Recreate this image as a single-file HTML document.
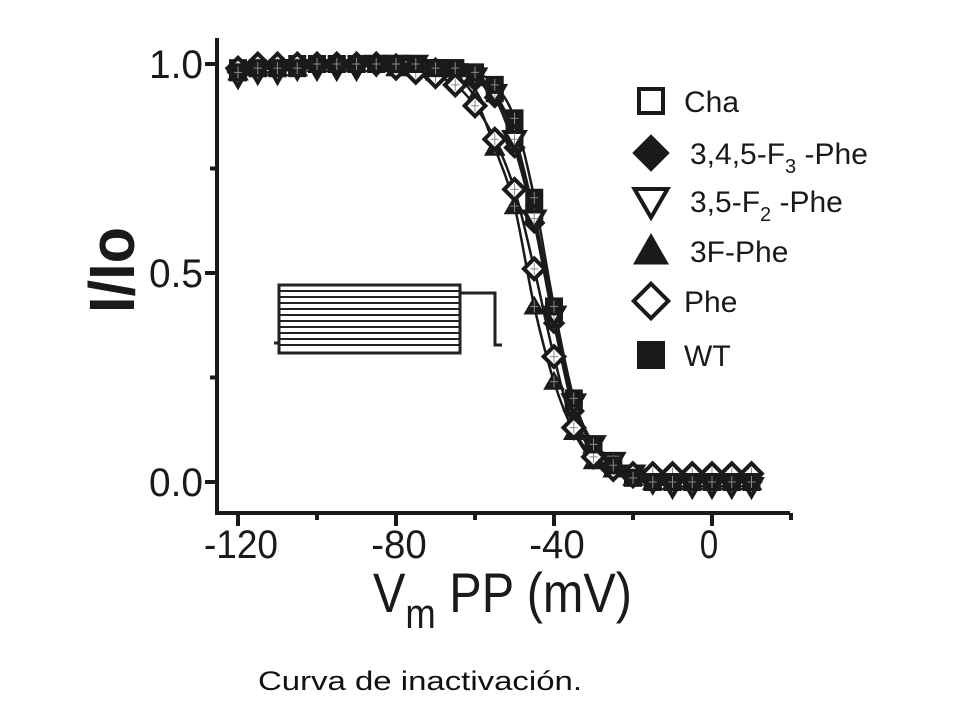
<!DOCTYPE html>
<html><head><meta charset="utf-8"><style>
body{margin:0;background:#fff;}
svg text{font-family:"Liberation Sans",Arial,sans-serif;}
</style></head><body>
<svg id="c" width="960" height="720" viewBox="0 0 960 720" xmlns="http://www.w3.org/2000/svg">
<g id="axes"></g>
<g id="inset" stroke="#222" fill="none">
  <rect x="279" y="285" width="181" height="68" stroke-width="3"/>
  <path d="M279 291H460M279 297H460M279 303H460M279 309H460M279 315H460M279 321H460M279 327H460M279 333H460M279 339H460M279 345H460" stroke-width="2"/>
  <path d="M274 343H279M460 293H495V345H502" stroke-width="3"/>
</g>
<g id="series"></g>
<g id="legend"></g>
<text x="0" y="0" font-size="64" font-weight="bold" fill="#1a1a1a" text-anchor="middle" textLength="86" lengthAdjust="spacingAndGlyphs" transform="translate(134 270) rotate(-90)">I/Io</text>
<text x="373" y="612" font-size="56" text-anchor="start" fill="#1a1a1a" textLength="259" lengthAdjust="spacingAndGlyphs">V<tspan font-size="42" dy="16">m</tspan><tspan dy="-16"> PP (mV)</tspan></text>
<text x="258" y="690" font-size="27" text-anchor="start" fill="#111" textLength="324" lengthAdjust="spacingAndGlyphs">Curva de inactivación.</text>
</svg>
<script>
const voltages=[-120,-115,-110,-105,-100,-95,-90,-85,-80,-75,-70,-65,-60,-55,-50,-45,-40,-35,-30,-25,-20,-15,-10,-5,0,5,10];
const chaValues=[0.99,0.99,0.99,1.0,1.0,1.0,1.0,1.0,1.0,1.0,0.99,0.99,0.97,0.93,0.83,0.64,0.40,0.19,0.08,0.04,0.02,0.01,0.0,0.0,0.0,0.0,0.0];
const f3Values=[0.98,0.99,0.99,0.99,1.0,1.0,1.0,1.0,1.0,0.99,0.99,0.98,0.96,0.92,0.80,0.62,0.38,0.17,0.07,0.03,0.01,0.0,0.0,0.0,0.0,0.0,0.0];
const f2Values=[0.97,0.98,0.98,0.99,0.99,0.99,0.99,1.0,1.0,1.0,0.99,0.98,0.97,0.93,0.82,0.63,0.40,0.19,0.09,0.05,0.02,0.0,-0.01,-0.01,-0.01,-0.01,-0.01];
const f1Values=[0.98,0.99,0.99,0.99,1.0,1.0,1.0,1.0,0.99,0.99,0.98,0.97,0.92,0.80,0.66,0.42,0.24,0.12,0.05,0.03,0.01,0.0,0.0,0.0,0.0,0.0,0.0];
const pheValues=[0.99,1.0,1.0,1.0,1.0,1.0,1.0,1.0,0.99,0.98,0.97,0.95,0.90,0.82,0.70,0.51,0.30,0.13,0.06,0.03,0.02,0.02,0.02,0.02,0.02,0.02,0.02];
const wtValues=[0.98,0.99,0.99,0.99,1.0,1.0,1.0,1.0,1.0,1.0,0.99,0.99,0.98,0.95,0.87,0.68,0.42,0.20,0.09,0.04,0.01,0.0,0.0,0.0,0.0,0.0,0.0];
const xTicks=[-120,-80,-40,0];
const xMinor=[-100,-60,-20,20];
const yTicks=[0,0.5,1.0];
const yTickLabels=["0.0","0.5","1.0"];
const yMinor=[0.25,0.75];
const legendLabels=["Cha","3,4,5-F|3| -Phe","3,5-F|2| -Phe","3F-Phe","Phe","WT"];

const NS="http://www.w3.org/2000/svg";
function X(v){return 712+(v-0)*3.95;}
function Y(v){return 482-v*418;}
function mk(tag,attrs,parent){const e=document.createElementNS(NS,tag);for(const k in attrs)e.setAttribute(k,attrs[k]);parent.appendChild(e);return e;}
const axes=document.getElementById('axes');
mk('path',{d:'M217 38V513H790',stroke:'#1a1a1a','stroke-width':4,fill:'none'},axes);
xTicks.forEach((t,i)=>{const l=mk('line',{x1:X(t),x2:X(t),y1:513,y2:526,stroke:'#1a1a1a','stroke-width':4},axes);

const s=String(t);
const tx=mk('text',{x:X(t)+(t<0?3:-3),y:558,'font-size':40,'text-anchor':'middle',fill:'#1a1a1a',textLength:s.length*18.5,lengthAdjust:'spacingAndGlyphs'},axes);tx.textContent=s;
});
xMinor.forEach(t=>{mk('line',{x1:X(t),x2:X(t),y1:513,y2:520,stroke:'#1a1a1a','stroke-width':4},axes);});
yTicks.forEach((t,i)=>{const l=mk('line',{x1:205,x2:217,y1:Y(t),y2:Y(t),stroke:'#1a1a1a','stroke-width':4},axes);

const tx=mk('text',{x:203,y:Y(t)+14,'font-size':40,'text-anchor':'end',fill:'#1a1a1a',textLength:54,lengthAdjust:'spacingAndGlyphs'},axes);tx.textContent=yTickLabels[i];
});
yMinor.forEach(t=>{mk('line',{x1:210,x2:217,y1:Y(t),y2:Y(t),stroke:'#1a1a1a','stroke-width':4},axes);});

function marker(type,x,y,s,parent){
  const c='#1a1a1a';
  if(type==='sqOpen')return mk('rect',{x:x-s+2,y:y-s+2,width:2*s-4,height:2*s-4,fill:'#fff',stroke:c,'stroke-width':4},parent);
  if(type==='sqFill')return mk('rect',{x:x-s,y:y-s,width:2*s,height:2*s,fill:c},parent);
  if(type==='diaFill')return mk('path',{d:`M${x} ${y-s*1.25}L${x+s*1.25} ${y}L${x} ${y+s*1.25}L${x-s*1.25} ${y}Z`,fill:c},parent);
  if(type==='diaOpen')return mk('path',{d:`M${x} ${y-s*1.15}L${x+s*1.15} ${y}L${x} ${y+s*1.15}L${x-s*1.15} ${y}Z`,fill:'#fff',stroke:c,'stroke-width':4},parent);
  if(type==='triDownOpen')return mk('path',{d:`M${x-s*1.1} ${y-s*0.8}L${x+s*1.1} ${y-s*0.8}L${x} ${y+s*1.1}Z`,fill:'#fff',stroke:c,'stroke-width':4},parent);
  if(type==='triUpFill')return mk('path',{d:`M${x-s*1.2} ${y+s*0.9}L${x+s*1.2} ${y+s*0.9}L${x} ${y-s*1.2}Z`,fill:c},parent);
}
const series=[
 {name:'cha',vals:chaValues,m:'sqOpen'},
 {name:'f3-phe',vals:f3Values,m:'diaFill'},
 {name:'f2-phe',vals:f2Values,m:'triDownOpen'},
 {name:'f1-phe',vals:f1Values,m:'triUpFill'},
 {name:'phe',vals:pheValues,m:'diaOpen'},
 {name:'wt',vals:wtValues,m:'sqFill'}];
const sg=document.getElementById('series');
function smooth(pts){let d=`M${pts[0][0]} ${pts[0][1]}`;for(let i=0;i<pts.length-1;i++){const p0=pts[Math.max(0,i-1)],p1=pts[i],p2=pts[i+1],p3=pts[Math.min(pts.length-1,i+2)];
d+=`C${p1[0]+(p2[0]-p0[0])/6} ${p1[1]+(p2[1]-p0[1])/6} ${p2[0]-(p3[0]-p1[0])/6} ${p2[1]-(p3[1]-p1[1])/6} ${p2[0]} ${p2[1]}`;}return d;}
series.forEach(s=>{
  const g=mk('g',{},sg);
  
  
  const pts=voltages.map((v,i)=>[X(v),Y(s.vals[i])]);
  const ln=mk('path',{d:smooth(pts),fill:'none',stroke:'#1a1a1a','stroke-width':2.5},g);
  
  
});
series.forEach(s=>{
  const g=mk('g',{},sg);
  
  
  voltages.forEach((v,i)=>{
    const p=marker(s.m,X(v),Y(s.vals[i]),9,g);
    
    
    mk('path',{d:`M${X(v)-4} ${Y(s.vals[i])}H${X(v)+4}M${X(v)} ${Y(s.vals[i])-6}V${Y(s.vals[i])+6}`,stroke:'#888','stroke-width':1},g);
  });
});
const lg=document.getElementById('legend');
const lm=['sqOpen','diaFill','triDownOpen','triUpFill','diaOpen','sqFill'];
const ly=[101,153,201,251,301,355];
legendLabels.forEach((lab,i)=>{
  const g=mk('g',{},lg);
  
  
  marker(lm[i],651,ly[i],i===0||i===5?14:15,g);
  const t=mk('text',{x:i===0||i===4||i===5?684:690,y:ly[i]+11,'font-size':30,fill:'#1a1a1a'},g);
  const parts=lab.split('|');
  t.appendChild(document.createTextNode(parts[0]));
  if(parts.length>1){const sub=mk('tspan',{'font-size':20,dy:9},t);sub.textContent=parts[1];
  const rest=mk('tspan',{dy:-9},t);rest.textContent=parts[2];}
});
</script>
</body></html>
